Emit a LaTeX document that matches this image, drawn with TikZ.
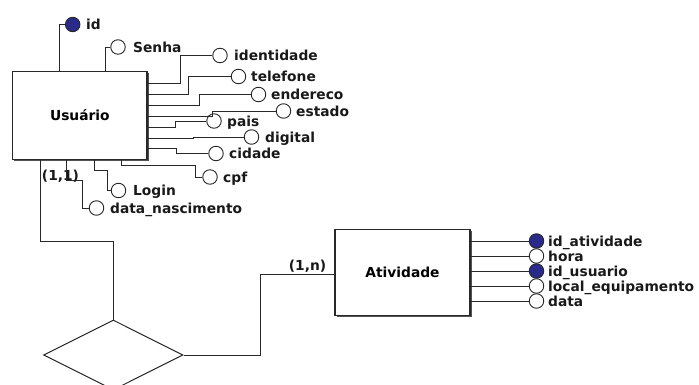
\documentclass[tikz,border=0pt]{standalone}
\usepackage{fontspec}
\setmainfont{DejaVu Sans}
\usetikzlibrary{shapes.geometric,shadows}
\definecolor{ln}{RGB}{40,40,40}
\definecolor{keyfill}{RGB}{42,42,138}
\tikzset{
  entity/.style={draw=ln, line width=1.1pt, fill=white, rectangle, inner sep=0pt,
    drop shadow={shadow xshift=1.5pt, shadow yshift=-1.5pt, fill=ln!80, opacity=1}},
  attr/.style={draw=ln, line width=0.9pt, fill=white, circle, minimum size=14.5pt, inner sep=0pt},
  keyattr/.style={attr, fill=keyfill},
  lbl/.style={inner sep=0pt, anchor=west, text height=10.3pt, text depth=0pt, text=black!90},
  conn/.style={draw=ln, line width=0.95pt},
  card/.style={inner sep=0pt, text=black!90},
}
\begin{document}
\begin{tikzpicture}[x=1pt, y=-1pt, font=\fontsize{13.8}{16}\selectfont\bfseries]
\useasboundingbox (0,0) rectangle (699,385);
% entities
\node[entity, minimum width=134.3pt, minimum height=87.6pt] (usr) at (79.85,115.5) {Usuário};
\node[entity, minimum width=135pt, minimum height=86pt] (act) at (402.5,272.5) {Atividade};
% relationship
\node[draw=ln, line width=1pt, diamond, fill=white, inner sep=0pt, minimum width=139.4pt, minimum height=70pt, aspect=2] (rel) at (113.3,355) {};
% Usuario attributes
\node[keyattr] (aid) at (72.7,24.5) {};
\node[lbl] (lid) at (86,24.5) {id};
\node[attr] (asenha) at (118,47) {};
\node[lbl] (lsenha) at (133,47) {Senha};
\node[attr] (aident) at (220,55.5) {};
\node[lbl] (lident) at (234,55.5) {identidade};
\node[attr] (atel) at (238.5,76.5) {};
\node[lbl] (ltel) at (251,76.5) {telefone};
\node[attr] (aend) at (258.5,94.5) {};
\node[lbl] (lend) at (271,94.5) {endereco};
\node[attr] (aest) at (283.5,111) {};
\node[lbl] (lest) at (296,111) {estado};
\node[attr] (apais) at (214,121) {};
\node[lbl] (lpais) at (227,121) {pais};
\node[attr] (adig) at (251.5,137) {};
\node[lbl] (ldig) at (265,137) {digital};
\node[attr] (acid) at (216,153.5) {};
\node[lbl] (lcid) at (229,153.5) {cidade};
\node[attr] (acpf) at (210,177) {};
\node[lbl] (lcpf) at (223,177) {cpf};
\node[attr] (alogin) at (118.5,190.5) {};
\node[lbl] (llogin) at (133,190.5) {Login};
\node[attr] (adata) at (96.5,208) {};
\node[lbl] (ldata) at (110,208) {data\_nascimento};
% Atividade attributes
\node[keyattr] (b1) at (536.5,241) {};
\node[lbl] (lb1) at (548,241) {id\_atividade};
\node[attr] (b2) at (536.5,256) {};
\node[lbl] (lb2) at (548,256) {hora};
\node[keyattr] (b3) at (536.5,271) {};
\node[lbl] (lb3) at (548,271) {id\_usuario};
\node[attr] (b4) at (536.5,286) {};
\node[lbl] (lb4) at (548,286) {local\_equipamento};
\node[attr] (b5) at (536.5,301) {};
\node[lbl] (lb5) at (548,301) {data};
% cardinalities
\node[card] (c11) at (60.5,176) {(1,1)};
\node[card] (c1n) at (307.5,266.5) {(1,n)};
% connectors
\begin{scope}[conn]
\draw (usr.north -| 59.5,0) |- (aid);
\draw (usr.north -| 105.5,0) |- (asenha);
\draw (usr.east |- 0,83) -- (180,83) |- (aident);
\draw (usr.east |- 0,94) -- (188.5,94) |- (atel);
\draw (usr.east |- 0,105.5) -- (199.5,105.5) |- (aend);
\draw (usr.east |- 0,116.5) -- (212,116.5) |- (aest);
\draw (usr.east |- 0,127) -- (175,127) |- (apais);
\draw (usr.east |- 0,138) -- (193,138) |- (adig);
\draw (usr.east |- 0,148.5) -- (176.5,148.5) |- (acid);
\draw (usr.south -| 121.5,0) |- (195,165) |- (acpf);
\draw (usr.south -| 94,0) |- (107.5,170.5) |- (alogin);
\draw (usr.south -| 66.5,0) |- (82.5,180) |- (adata);
\draw (usr.south -| 40.5,0) |- (113.3,241.5) -- (rel.north);
\draw (rel.east) -| (260,274.5) -- (act.west |- 0,274.5);
\foreach \b in {b1,b2,b3,b4,b5} \draw (act.east |- \b) -- (\b);
\end{scope}
\end{tikzpicture}
\end{document}
